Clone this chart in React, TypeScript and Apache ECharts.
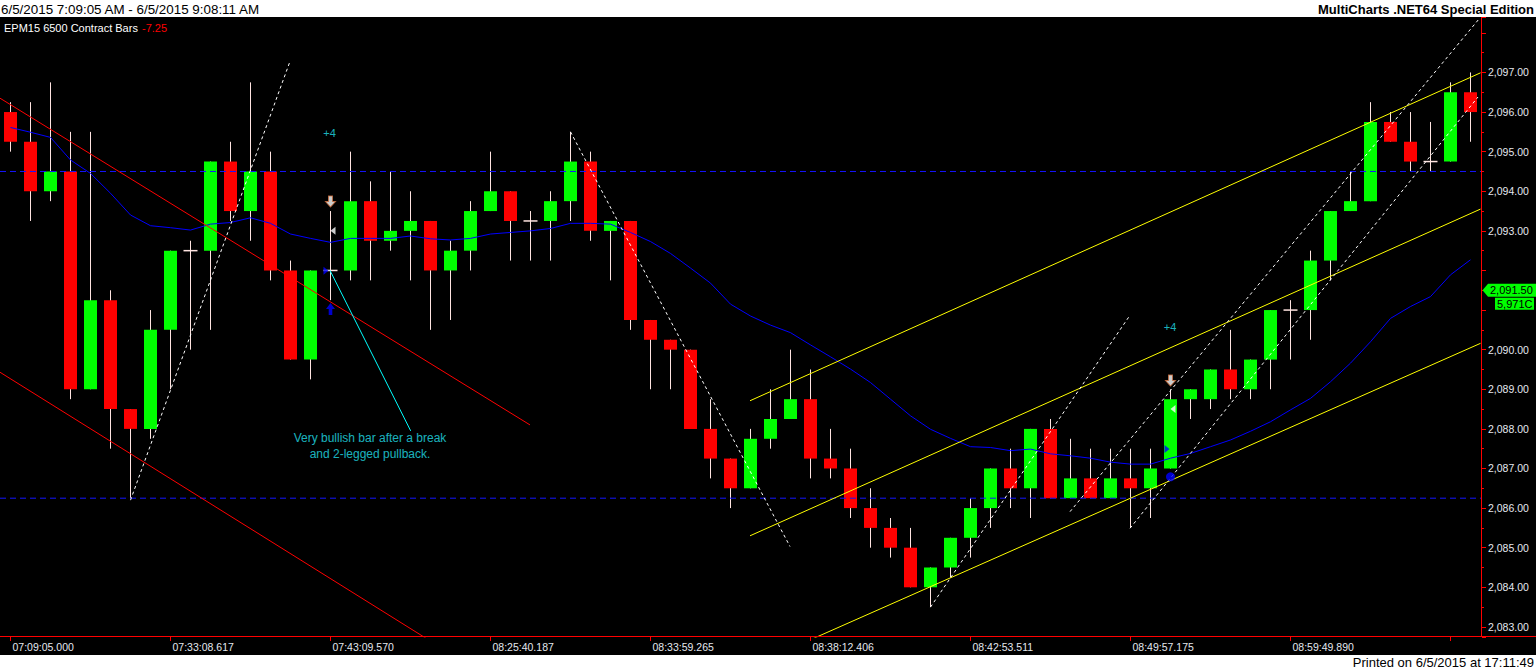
import React, { useEffect, useRef } from 'react';
import * as echarts from 'echarts';

// ---------- DATA ----------
const opens = [
  2096, 2095.25, 2094, 2094.5, 2089, 2091.25, 2088.5, 2088, 2090.5, 2092.5,
  2092.5, 2094.75, 2093.5, 2094.5, 2092, 2089.75, 2092, 2092, 2093.75, 2092.75,
  2093, 2093.25, 2092, 2092.5, 2093.5, 2094, 2093.25, 2093.25, 2093.75, 2094.75,
  2093, 2093.25, 2090.75, 2090.25, 2090, 2088, 2087.25, 2086.5, 2087.75, 2088.25,
  2088.75, 2087.25, 2087, 2086, 2085.5, 2085, 2084, 2084.5, 2085.25, 2086,
  2087, 2086.5, 2088, 2086.25, 2086.75, 2086.25, 2086.75, 2086.5, 2087, 2088.75,
  2088.75, 2089.5, 2089, 2089.75, 2091, 2091, 2092.25, 2093.5, 2093.75, 2095.75,
  2095.25, 2094.75, 2094.75, 2096.5,
];
const closes = [
  2095.25, 2094, 2094.5, 2089, 2091.25, 2088.5, 2088, 2090.5, 2092.5, 2092.5,
  2094.75, 2093.5, 2094.5, 2092, 2089.75, 2092, 2092, 2093.75, 2092.75, 2093,
  2093.25, 2092, 2092.5, 2093.5, 2094, 2093.25, 2093.25, 2093.75, 2094.75, 2093,
  2093.25, 2090.75, 2090.25, 2090, 2088, 2087.25, 2086.5, 2087.75, 2088.25, 2088.75,
  2087.25, 2087, 2086, 2085.5, 2085, 2084, 2084.5, 2085.25, 2086, 2087,
  2086.5, 2088, 2086.25, 2086.75, 2086.25, 2086.75, 2086.5, 2087, 2088.75, 2089,
  2089.5, 2089, 2089.75, 2091, 2091, 2092.25, 2093.5, 2093.75, 2095.75, 2095.25,
  2094.75, 2094.75, 2096.5, 2096,
];
const highs = [
  2096.25, 2096.25, 2096.75, 2095.5, 2095.5, 2091.5, 2088.5, 2091, 2092.5, 2092.75,
  2094.75, 2095.25, 2096.75, 2095, 2092.25, 2092, 2093.5, 2095, 2094.25, 2094.5,
  2094, 2093.25, 2092.75, 2093.75, 2095, 2094, 2093.5, 2094, 2095.5, 2095,
  2093.25, 2093.25, 2090.75, 2090.25, 2090, 2088.75, 2087.25, 2088, 2089, 2090,
  2089.5, 2088, 2087.5, 2086.5, 2085.75, 2085.5, 2084.5, 2085.25, 2086.25, 2087,
  2087.5, 2088, 2088.25, 2087.75, 2087.5, 2087.5, 2087.5, 2087.5, 2089, 2089,
  2089.5, 2090.5, 2089.75, 2091, 2091.25, 2092.5, 2093.5, 2094.5, 2096.25, 2096,
  2096, 2095.75, 2096.75, 2097,
];
const lows = [
  2095, 2093.25, 2093.75, 2088.75, 2089, 2087.5, 2086.25, 2087.75, 2089, 2090,
  2090.5, 2093.25, 2092.75, 2091.75, 2089.75, 2089.25, 2091.25, 2091.75, 2091.75, 2092.5,
  2091.75, 2090.5, 2090.75, 2092, 2093.5, 2092.25, 2092.25, 2092.25, 2093.25, 2092.75,
  2091.75, 2090.5, 2089, 2089, 2088, 2086.75, 2086, 2086.5, 2087.5, 2088.25,
  2086.75, 2086.75, 2085.75, 2085, 2084.75, 2084, 2083.5, 2084.25, 2084.75, 2085.5,
  2086, 2085.75, 2086.25, 2086.25, 2086.25, 2086.25, 2085.5, 2085.75, 2087, 2088.25,
  2088.5, 2088.75, 2088.75, 2089, 2089.75, 2090.25, 2091.75, 2093.5, 2093.75, 2095.25,
  2094.5, 2094.5, 2094.75, 2095.25,
];
const maValues = [
  2095.61, 2095.49, 2095.36, 2094.79, 2094.45, 2093.95, 2093.4, 2093.13, 2093.08, 2093.02,
  2093.17, 2093.21, 2093.33, 2093.19, 2092.92, 2092.81, 2092.71, 2092.81, 2092.81, 2092.81,
  2092.87, 2092.8, 2092.77, 2092.81, 2092.92, 2092.96, 2093.0, 2093.06, 2093.19, 2093.19,
  2093.17, 2092.96, 2092.73, 2092.43, 2092.06, 2091.68, 2091.15, 2090.85, 2090.62, 2090.43,
  2090.12, 2089.82, 2089.51, 2089.17, 2088.75, 2088.33, 2087.99, 2087.76, 2087.55, 2087.53,
  2087.45, 2087.49, 2087.37, 2087.32, 2087.26, 2087.16, 2087.11, 2087.11, 2087.26, 2087.38,
  2087.55, 2087.72, 2087.94, 2088.18, 2088.48, 2088.77, 2089.19, 2089.66, 2090.2, 2090.79,
  2091.09, 2091.34, 2091.89, 2092.27,
];
const tickLabels = [
  '07:09:05.000', '07:33:08.617', '07:43:09.570', '08:25:40.187', '08:33:59.265',
  '08:38:12.406', '08:42:53.511', '08:49:57.175', '08:59:49.890',
];
const TICK_EVERY = 8;

// trend lines in [barIndex, price]
const redLineUpper = [[-0.525, 2096.35], [25.975, 2088.1]];
const redLineLower = [[-0.525, 2089.43], [20.975, 2082.65]];
const yellowUpper = [[36.975, 2088.71], [73.5, 2096.99]];
const yellowMiddle = [[36.975, 2085.3], [73.5, 2093.55]];
const yellowLower = [[39.975, 2082.67], [73.5, 2090.16]];
const whiteDash1 = [[6, 2086.2], [13.975, 2097.28]];
const whiteDash2 = [[28, 2095.5], [38.975, 2085.03]];
const whiteDash3 = [[46, 2083.5], [55.975, 2090.87]];
const whiteDash4 = [[52.975, 2085.91], [73.475, 2098.38]];
const whiteDash5 = [[55.975, 2085.49], [73.375, 2096.38]];
const blueLevelHigh = 2094.5;
const blueLevelLow = 2086.25;
const cyanPointer = [[15.975, 2092], [20.01, 2087.95]];

const downArrowPts = [[16, 2093.74], [58, 2089.22]];
const upArrowPts = [[16, 2091.03]];
const dotPts = [[58, 2086.79]];
const leftTriPts = [[16.125, 2093.0], [58.125, 2088.5]];
const rightTriPts = [[15.775, 2091.99], [57.825, 2087.49]];
const plusFourPts = [[15.95, 2095.47], [57.975, 2090.57]];
const notePos = [17.975, 2087.57];
const noteText = 'Very bullish bar after a break\nand 2-legged pullback.';

const lastPrice = 2091.5;
const lastVolume = '5,971C';
const yMin = 2082.745;
const yMax = 2098.4;

const headerRange = '6/5/2015 7:09:05 AM - 6/5/2015 9:08:11 AM';
const headerBrand = 'MultiCharts .NET64 Special Edition';
const symbolText = 'EPM15 6500 Contract Bars';
const changeText = '-7.25';
const printedText = 'Printed on 6/5/2015 at 17:11:49';

// ---------- HELPERS ----------
const FONT = '"Liberation Sans", Arial, sans-serif';
const fmt = (v: number) =>
  v.toLocaleString('en-US', { minimumFractionDigits: 2, maximumFractionDigits: 2 });
const categories = opens.map((_, i) =>
  i % TICK_EVERY === 0 && tickLabels[i / TICK_EVERY] ? tickLabels[i / TICK_EVERY] : ''
);
const candleData = opens.map((o, i) => [i, o, closes[i], lows[i], highs[i]]);

const WICK = '#ffe4e1';
const UP = '#00ff00';
const DOWN = '#ff0000';

function lineSeries(data: number[][], color: string, type: any = 'solid', z = 4) {
  return {
    type: 'line',
    xAxisIndex: 1,
    yAxisIndex: 0,
    data,
    symbol: 'none',
    silent: true,
    clip: true,
    z,
    animation: false,
    lineStyle: { color, width: 1, type },
  };
}

export default function App() {
  const ref = useRef<HTMLDivElement>(null);

  useEffect(() => {
    const el = ref.current!;
    const chart = echarts.init(el, undefined, { renderer: 'svg' });

    const baseGraphic: any[] = [
      { id: 'hdrbg', type: 'rect', z: 100, shape: { x: 0, y: 0, width: 1536, height: 17 }, style: { fill: '#ffffff' } },
      { id: 'ftrbg', type: 'rect', z: 100, shape: { x: 0, y: 655, width: 1536, height: 15 }, style: { fill: '#ffffff' } },
      { id: 'hdr1', type: 'text', z: 101, x: 1, y: 9, style: { text: headerRange, fill: '#000', font: `13.4px ${FONT}`, align: 'left', verticalAlign: 'middle' } },
      { id: 'hdr2', type: 'text', z: 101, x: 1534, y: 9, style: { text: headerBrand, fill: '#000', font: `bold 13px ${FONT}`, align: 'right', verticalAlign: 'middle' } },
      { id: 'sym', type: 'text', z: 101, x: 4, y: 28, style: { text: symbolText, fill: '#ffffff', font: `11px ${FONT}`, align: 'left', verticalAlign: 'middle' } },
      { id: 'chg', type: 'text', z: 101, x: 142, y: 28, style: { text: changeText, fill: '#ff0000', font: `11px ${FONT}`, align: 'left', verticalAlign: 'middle' } },
      { id: 'ftr', type: 'text', z: 101, x: 1534, y: 662.5, style: { text: printedText, fill: '#000', font: `13px ${FONT}`, align: 'right', verticalAlign: 'middle' } },
      { id: 'axV', type: 'line', z: 50, shape: { x1: 1481.5, y1: 17, x2: 1481.5, y2: 637 }, style: { stroke: '#ff0000', lineWidth: 1 } },
      { id: 'axH', type: 'line', z: 50, shape: { x1: 0, y1: 636.5, x2: 1536, y2: 636.5 }, style: { stroke: '#ff0000', lineWidth: 1 } },
    ];

    const option: any = {
      animation: false,
      backgroundColor: '#000000',
      textStyle: { fontFamily: FONT },
      grid: { left: 0.5, top: 17, width: 1480, height: 620, containLabel: false },
      xAxis: [
        {
          type: 'category',
          data: categories,
          boundaryGap: true,
          axisLine: { show: false, onZero: false },
          axisTick: { show: true, interval: TICK_EVERY - 1, alignWithLabel: true, length: 4, lineStyle: { color: '#ff0000' } },
          axisLabel: {
            interval: TICK_EVERY - 1,
            align: 'left',
            margin: 4,
            padding: [0, 0, 0, 2],
            color: '#e4e8ef',
            fontSize: 10.5,
            fontFamily: FONT,
            hideOverlap: false,
          },
          splitLine: { show: false },
        },
        { type: 'value', min: -0.5, max: 73.5, show: false, axisLine: { onZero: false } },
      ],
      yAxis: [
        {
          type: 'value',
          position: 'right',
          min: yMin,
          max: yMax,
          splitNumber: 15,
          minInterval: 1,
          maxInterval: 1,
          offset: 1.5,
          axisLine: { show: false, onZero: false },
          axisTick: { show: true, length: 4, lineStyle: { color: '#ff0000' } },
          minorTick: { show: true, splitNumber: 2, length: 2, lineStyle: { color: '#ff0000' } },
          axisLabel: {
            margin: 6,
            color: '#e4e8ef',
            fontSize: 10.5,
            fontFamily: FONT,
            showMinLabel: false,
            showMaxLabel: false,
            formatter: (v: number) =>
              v > 2097.5 || Math.abs(v - Math.round(v)) > 1e-6 || Math.abs(v - lastPrice) < 0.6 ? '' : fmt(v),
          },
          splitLine: { show: false },
        },
      ],
      series: [
        {
          type: 'custom',
          xAxisIndex: 0,
          yAxisIndex: 0,
          data: candleData,
          encode: { x: 0, y: [1, 2, 3, 4] },
          clip: true,
          z: 2,
          renderItem: (params: any, api: any) => {
            const i = api.value(0);
            const o = api.value(1);
            const c = api.value(2);
            const l = api.value(3);
            const h = api.value(4);
            const p0 = api.coord([i, o]);
            const x = Math.round(p0[0] - 0.5) + 0.5;
            const yo = p0[1];
            const yc = api.coord([i, c])[1];
            const yl = api.coord([i, l])[1];
            const yh = api.coord([i, h])[1];
            const children: any[] = [
              { type: 'line', shape: { x1: x, y1: yh, x2: x, y2: yl }, style: { stroke: WICK, lineWidth: 1 } },
            ];
            if (o === c) {
              children.push({ type: 'line', shape: { x1: x - 7, y1: yo, x2: x + 7, y2: yo }, style: { stroke: WICK, lineWidth: 1.5 } });
            } else {
              children.push({
                type: 'rect',
                shape: { x: x - 6.5, y: Math.min(yo, yc), width: 13, height: Math.abs(yo - yc) },
                style: { fill: c > o ? UP : DOWN },
              });
            }
            return { type: 'group', children };
          },
        },
        {
          type: 'line',
          xAxisIndex: 0,
          yAxisIndex: 0,
          data: maValues,
          symbol: 'none',
          silent: true,
          z: 3,
          lineStyle: { color: '#0000ff', width: 1 },
        },
        lineSeries([[-0.525, blueLevelHigh], [73.6, blueLevelHigh]], '#1414ff', [6, 4]),
        lineSeries([[-0.525, blueLevelLow], [73.6, blueLevelLow]], '#1414ff', [6, 4]),
        lineSeries(redLineUpper, '#ff0000'),
        lineSeries(redLineLower, '#ff0000'),
        lineSeries(yellowUpper, '#ffff00'),
        lineSeries(yellowMiddle, '#ffff00'),
        lineSeries(yellowLower, '#ffff00'),
        lineSeries(whiteDash1, '#ffffff', [3, 3]),
        lineSeries(whiteDash2, '#ffffff', [3, 3]),
        lineSeries(whiteDash3, '#ffffff', [3, 3]),
        lineSeries(whiteDash4, '#ffffff', [3, 3]),
        lineSeries(whiteDash5, '#ffffff', [3, 3]),
        lineSeries(cyanPointer, '#00ffff'),
        {
          type: 'scatter', xAxisIndex: 1, yAxisIndex: 0, z: 6, silent: true,
          data: downArrowPts,
          symbol: 'path://M3,0 L7,0 L7,6 L10,6 L5,12 L0,6 L3,6 Z',
          symbolSize: [10, 11],
          itemStyle: { color: '#ffffff', borderColor: '#d07040', borderWidth: 1 },
        },
        {
          type: 'scatter', xAxisIndex: 1, yAxisIndex: 0, z: 6, silent: true,
          data: upArrowPts,
          symbol: 'path://M5,0 L10,6 L7,6 L7,12 L3,12 L3,6 L0,6 Z',
          symbolSize: [9, 12],
          itemStyle: { color: '#0000ff' },
        },
        {
          type: 'scatter', xAxisIndex: 1, yAxisIndex: 0, z: 6, silent: true,
          data: dotPts,
          symbol: 'circle',
          symbolSize: 9,
          itemStyle: { color: '#0000ff' },
        },
        {
          type: 'scatter', xAxisIndex: 1, yAxisIndex: 0, z: 6, silent: true,
          data: leftTriPts,
          symbol: 'triangle',
          symbolRotate: 90,
          symbolSize: [8, 5],
          itemStyle: { color: '#ffffff' },
        },
        {
          type: 'scatter', xAxisIndex: 1, yAxisIndex: 0, z: 6, silent: true,
          data: rightTriPts,
          symbol: 'triangle',
          symbolRotate: -90,
          symbolSize: [8, 5],
          itemStyle: { color: '#0000ff' },
        },
        {
          type: 'scatter', xAxisIndex: 1, yAxisIndex: 0, z: 6, silent: true,
          data: plusFourPts,
          symbolSize: 0,
          label: { show: true, position: 'inside', formatter: '+4', color: '#22e0f0', fontSize: 11, fontFamily: FONT },
        },
        {
          type: 'scatter', xAxisIndex: 1, yAxisIndex: 0, z: 6, silent: true,
          data: [notePos],
          symbolSize: 0,
          label: {
            show: true, position: 'inside', formatter: noteText, color: '#22e0f0',
            fontSize: 12, lineHeight: 16, align: 'center', fontFamily: FONT,
          },
        },
      ],
      graphic: baseGraphic,
    };

    chart.setOption(option);

    const py = chart.convertToPixel({ yAxisIndex: 0 }, lastPrice) as number;
    const tag: any[] = [
      {
        id: 'tagA', type: 'polygon', z: 60,
        shape: { points: [[1482.5, py], [1488, py - 6.5], [1536, py - 6.5], [1536, py + 6.5], [1488, py + 6.5]] },
        style: { fill: '#00ff00' },
      },
      { id: 'tagAt', type: 'text', z: 61, x: 1490, y: py, style: { text: fmt(lastPrice), fill: '#000', font: `11px ${FONT}`, align: 'left', verticalAlign: 'middle' } },
      { id: 'tagB', type: 'rect', z: 60, shape: { x: 1495, y: py + 7.5, width: 39, height: 12 }, style: { fill: '#00ff00' } },
      { id: 'tagBt', type: 'text', z: 61, x: 1497, y: py + 13.5, style: { text: lastVolume, fill: '#000', font: `11px ${FONT}`, align: 'left', verticalAlign: 'middle' } },
    ];
    chart.setOption({ graphic: [...baseGraphic, ...tag] });

    return () => chart.dispose();
  }, []);

  return (
    <div
      ref={ref}
      style={{ position: 'fixed', left: 0, top: 0, width: 1536, height: 670, background: '#000' }}
    />
  );
}
